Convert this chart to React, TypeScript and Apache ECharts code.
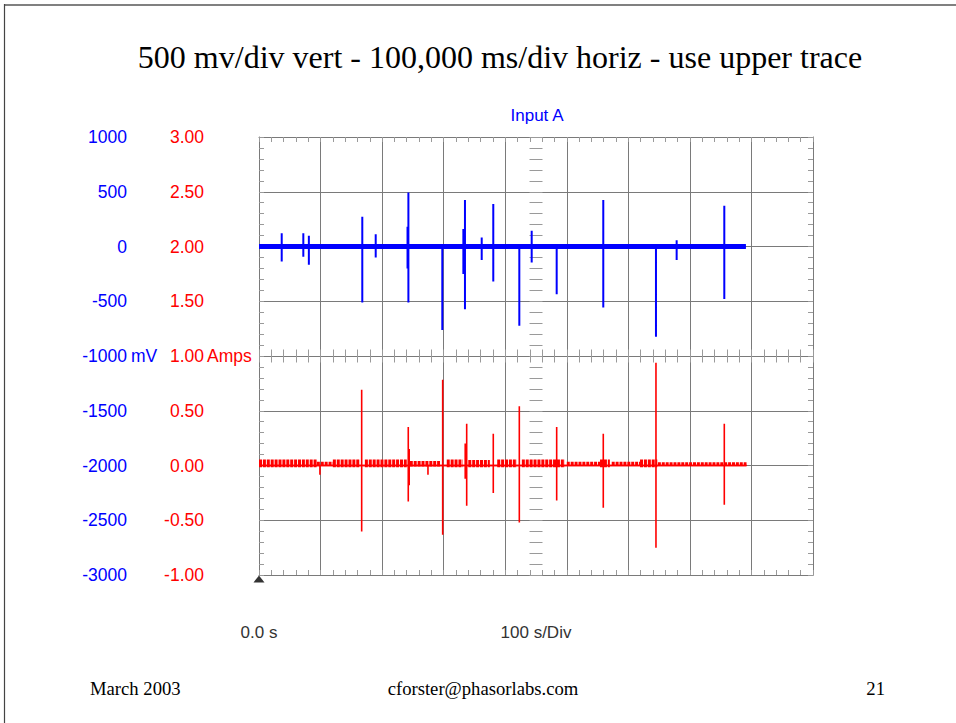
import React, { useEffect, useRef } from "react";
import * as echarts from "echarts";

// ---------- texts ----------
const titleText = "500 mv/div vert - 100,000 ms/div horiz - use upper trace";
const channelName = "Input A";
const timeStartLabel = "0.0 s";
const timeScaleLabel = "100 s/Div";
const blueUnit = "mV";
const redUnit = "Amps";
const footerDate = "March 2003";
const footerEmail = "cforster@phasorlabs.com";
const footerPage = "21";

// ---------- scales ----------
const timeRange = [0, 900]; // 9 divisions x 100 s
const timeStep = 100;
const blueRange = [-3000, 1000]; // mV, 500 mV/div
const blueStep = 500;
const redRange = [-1, 3]; // Amps, 0.5 A/div
const redStep = 0.5;
const blueTickLabels = ["-3000", "-2500", "-2000", "-1500", "-1000", "-500", "0", "500", "1000"];
const redTickLabels = ["-1.00", "-0.50", "0.00", "0.50", "1.00", "1.50", "2.00", "2.50", "3.00"];

// ---------- data ----------
// blue channel (mV): [time s, peak up, peak down]
const blueSpikes = [
  [36.9, 122, -137],
  [72, 122, -94],
  [81, 98, -167],
  [167.8, 271, -511],
  [189.6, 113, -100],
  [241.3, 180, -200],
  [242.7, 493, -511],
  [297.8, 20, -763],
  [332, 160, -250],
  [334.6, 424, -572],
  [361.8, 82, -124],
  [380.6, 387, -320],
  [422.9, 0, -724],
  [443, 143, -146],
  [483.6, 0, -435],
  [559.3, 424, -557],
  [644.9, 0, -825],
  [678.5, 58, -124],
  [755.9, 372, -480],
];
const blueTraceEnd = 791; // s
const blueBaseline = [[0, 0], [791, 0]]; // thick noisy baseline

// red channel (A): [time s, peak up, peak down]
const redSpikes = [
  [99, 0, -0.084],
  [166.8, 0.692, -0.602],
  [242.5, 0.352, -0.328],
  [244, 0.15, -0.18],
  [274.5, 0, -0.084],
  [298.4, 0.784, -0.632],
  [335, 0.2, -0.12],
  [337.4, 0.382, -0.367],
  [380.6, 0.29, -0.251],
  [422.9, 0.54, -0.52],
  [483.6, 0.352, -0.319],
  [559.3, 0.29, -0.385],
  [644.9, 0.939, -0.751],
  [755.9, 0.382, -0.358],
];
const redTraceEnd = 792;
const redBaseline = [[0, 0], [792, 0]];
// red baseline noise: [t start, t end, top A, bottom A]
const redNoise = [
  [0, 94, 0.055, -0.015],
  [94, 120, 0.035, -0.005],
  [120, 164, 0.055, -0.015],
  [172, 240, 0.055, -0.015],
  [245, 294, 0.04, -0.01],
  [305, 331, 0.055, -0.015],
  [340, 375, 0.05, -0.015],
  [387, 419, 0.055, -0.015],
  [427, 497, 0.055, -0.015],
  [500, 554, 0.035, -0.005],
  [554, 570, 0.055, -0.015],
  [573, 619, 0.035, -0.005],
  [619, 647, 0.055, -0.015],
  [648, 792, 0.03, -0.005],
];
const triggerMarker = [[0, -3000]];

// ---------- colours ----------
const BLUE = "#0000ff";
const RED = "#ff0000";
const GRID = "#7a7a7a";
const MINOR = "#9a9a9a";
const SANS = "'Liberation Sans', Arial, sans-serif";
const SERIF = "'Liberation Serif', 'Times New Roman', serif";

function buildTrace(spikes: number[][], end: number) {
  const pts: number[][] = [[0, 0]];
  for (const [t, up, down] of spikes) {
    pts.push([t, 0], [t, up], [t, down], [t, 0]);
  }
  pts.push([end, 0]);
  return pts;
}

function ticks(inside: boolean, length: number) {
  return {
    axisTick: { show: true, inside, length, lineStyle: { color: MINOR } },
    minorTick: { show: true, splitNumber: 5, length, lineStyle: { color: MINOR } },
  };
}
const noLine = { show: false, onZero: false };
const frameLine = { show: true, onZero: false, lineStyle: { color: GRID, width: 1 } };

function frameX(extra: any) {
  return {
    type: "value",
    min: timeRange[0],
    max: timeRange[1],
    interval: timeStep,
    axisLabel: { show: false },
    axisLine: noLine,
    splitLine: { show: false },
    ...ticks(true, 5),
    ...extra,
  };
}
function frameY(extra: any) {
  return {
    type: "value",
    min: blueRange[0],
    max: blueRange[1],
    interval: blueStep,
    axisLabel: { show: false },
    axisLine: noLine,
    splitLine: { show: false },
    ...ticks(true, 5),
    ...extra,
  };
}

export default function App() {
  const ref = useRef<HTMLDivElement>(null);
  useEffect(() => {
    const chart = echarts.init(ref.current!, null, { renderer: "svg" });
    const option: any = {
      animation: false,
      backgroundColor: "#ffffff",
      grid: { left: 259, top: 137, width: 554, height: 438, containLabel: false, outerBoundsMode: "none" },
      xAxis: [
        {
          type: "value",
          position: "bottom",
          min: timeRange[0],
          max: timeRange[1],
          interval: timeStep,
          axisLine: frameLine,
          ...ticks(true, 5),
          splitLine: { show: true, lineStyle: { color: GRID, width: 1 } },
          axisLabel: {
            show: true,
            margin: 49,
            color: "#333333",
            fontFamily: SANS,
            fontSize: 17,
            formatter: (v: number) => (v === timeRange[0] ? timeStartLabel : ""),
          },
          name: timeScaleLabel,
          nameLocation: "middle",
          nameGap: 49,
          nameMoveOverlap: false,
          nameTextStyle: { color: "#333333", fontFamily: SANS, fontSize: 17, verticalAlign: "top" },
        },
        // top frame edge
        frameX({ position: "top", offset: 0, axisLine: frameLine }),
        // middle horizontal line: ticks both ways
        frameX({ position: "bottom", offset: -219, ...ticks(true, 6.5) }),
        frameX({ position: "bottom", offset: -219, ...ticks(false, 6.5) }),
      ],
      yAxis: [
        {
          type: "value",
          position: "left",
          offset: 132,
          min: blueRange[0],
          max: blueRange[1],
          interval: blueStep,
          axisLine: noLine,
          axisTick: { show: false },
          splitLine: { show: true, lineStyle: { color: GRID, width: 1 } },
          axisLabel: {
            margin: 0,
            color: BLUE,
            fontFamily: SANS,
            fontSize: 17.5,
            formatter: (_v: number, i: number) => blueTickLabels[i],
          },
          name: blueUnit,
          nameLocation: "middle",
          nameRotate: 0,
          nameGap: -4,
          nameMoveOverlap: false,
          nameTextStyle: { color: BLUE, fontFamily: SANS, fontSize: 17.5, align: "left", verticalAlign: "middle" },
        },
        {
          type: "value",
          position: "left",
          offset: 55,
          min: redRange[0],
          max: redRange[1],
          interval: redStep,
          axisLine: noLine,
          axisTick: { show: false },
          splitLine: { show: false },
          axisLabel: {
            margin: 0,
            color: RED,
            fontFamily: SANS,
            fontSize: 17.5,
            formatter: (_v: number, i: number) => redTickLabels[i],
          },
          name: redUnit,
          nameLocation: "middle",
          nameRotate: 0,
          nameGap: -3,
          nameMoveOverlap: false,
          nameTextStyle: { color: RED, fontFamily: SANS, fontSize: 17.5, align: "left", verticalAlign: "middle" },
        },
        // left and right frame edges
        frameY({ position: "left", offset: 0, axisLine: frameLine }),
        frameY({ position: "right", offset: 0, axisLine: frameLine }),
        // centre column: ticks both ways
        frameY({ position: "left", offset: -277, ...ticks(true, 6.5) }),
        frameY({ position: "left", offset: -277, ...ticks(false, 6.5) }),
      ],
      series: [
        {
          name: "red baseline",
          type: "line",
          yAxisIndex: 1,
          data: redBaseline,
          symbol: "none",
          lineStyle: { color: RED, width: 1.5 },
          silent: true,
        },
        {
          name: "red noise",
          type: "custom",
          yAxisIndex: 1,
          encode: { x: [0, 1], y: [2, 3] },
          data: redNoise,
          silent: true,
          renderItem: (_p: any, api: any) => {
            const mid = (api.value(2) + api.value(3)) / 2;
            const a = api.coord([api.value(0), mid]);
            const b = api.coord([api.value(1), mid]);
            const h = Math.abs(api.coord([0, api.value(2)])[1] - api.coord([0, api.value(3)])[1]);
            return {
              type: "line",
              shape: { x1: a[0], y1: a[1], x2: b[0], y2: b[1] },
              style: { stroke: RED, lineWidth: h, lineDash: [3, 0.9] },
            };
          },
        },
        {
          name: "red trace",
          type: "line",
          yAxisIndex: 1,
          data: buildTrace(redSpikes, redTraceEnd),
          symbol: "none",
          lineStyle: { color: RED, width: 1.6 },
          silent: true,
        },
        {
          name: "blue baseline",
          type: "line",
          yAxisIndex: 0,
          data: blueBaseline,
          symbol: "none",
          lineStyle: { color: BLUE, width: 5 },
          silent: true,
        },
        {
          name: "blue trace",
          type: "line",
          yAxisIndex: 0,
          data: buildTrace(blueSpikes, blueTraceEnd),
          symbol: "none",
          lineStyle: { color: BLUE, width: 2 },
          silent: true,
        },
        {
          name: "trigger",
          type: "scatter",
          yAxisIndex: 0,
          data: triggerMarker,
          symbol: "triangle",
          symbolSize: [11, 7],
          symbolOffset: [0, 4],
          clip: false,
          itemStyle: { color: "#000000" },
          silent: true,
        },
      ],
      graphic: [
        { type: "line", shape: { x1: 4, y1: 5, x2: 956, y2: 5 }, style: { stroke: "#808080", lineWidth: 2 }, silent: true },
        { type: "line", shape: { x1: 4.5, y1: 4, x2: 4.5, y2: 723 }, style: { stroke: "#444444", lineWidth: 1.2 }, silent: true },
        {
          type: "text",
          x: 500,
          y: 57,
          style: { text: titleText, font: `32px ${SERIF}`, fill: "#000000", textAlign: "center", textVerticalAlign: "middle" },
        },
        {
          type: "text",
          x: 537,
          y: 115,
          style: { text: channelName, font: `17px ${SANS}`, fill: BLUE, textAlign: "center", textVerticalAlign: "middle" },
        },
        {
          type: "text",
          x: 90,
          y: 688,
          style: { text: footerDate, font: `18.67px ${SERIF}`, fill: "#000000", textAlign: "left", textVerticalAlign: "middle" },
        },
        {
          type: "text",
          x: 483,
          y: 688,
          style: { text: footerEmail, font: `18.67px ${SERIF}`, fill: "#000000", textAlign: "center", textVerticalAlign: "middle" },
        },
        {
          type: "text",
          x: 885,
          y: 688,
          style: { text: footerPage, font: `18.67px ${SERIF}`, fill: "#000000", textAlign: "right", textVerticalAlign: "middle" },
        },
      ],
    };
    chart.setOption(option);
    return () => chart.dispose();
  }, []);
  return (
    <div
      ref={ref}
      style={{ position: "fixed", left: 0, top: 0, width: 956, height: 723, background: "#ffffff" }}
    />
  );
}
